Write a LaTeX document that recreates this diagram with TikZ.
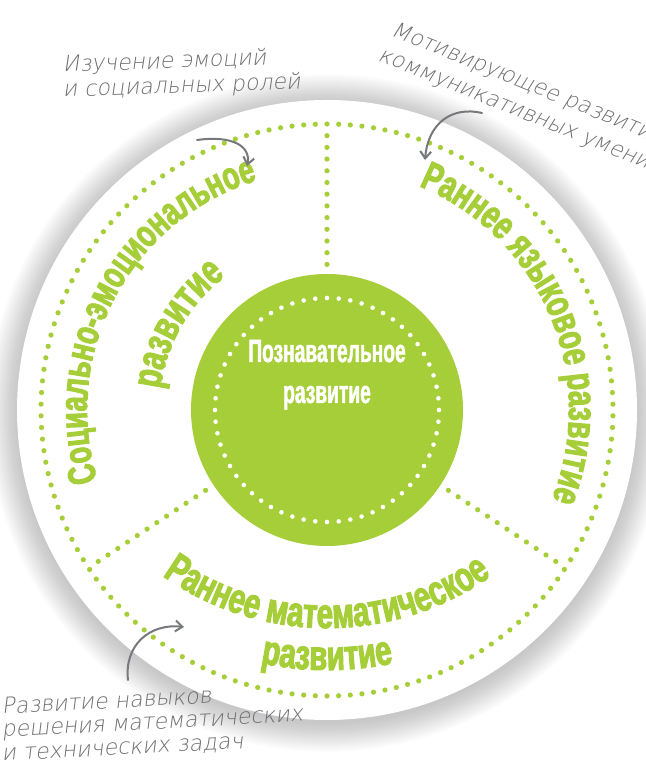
\documentclass[tikz,border=0pt]{standalone}
\usepackage{fontspec}
\usetikzlibrary{decorations.text,arrows.meta}
\definecolor{lgreen}{HTML}{A6CE39}
\definecolor{hgray}{HTML}{6D6E71}
\definecolor{agray}{HTML}{77787B}
\newfontfamily\labfam{Liberation Sans}[FakeStretch=0.70,BoldFeatures={FakeBold=2.5}]
\newfontfamily\cogfam{Liberation Sans}[FakeStretch=0.60,BoldFeatures={FakeBold=1.5}]
\newfontfamily\handfam{DejaVu Sans ExtraLight}[FakeSlant=0.18]
\newcommand\labfnt[1]{\labfam\bfseries\fontsize{#1}{46}\selectfont}
\tikzset{
  hand/.style={text=hgray, font=\handfam\fontsize{22}{25}\selectfont, inner sep=0pt, anchor=base west},
  arr/.style={draw=agray, line width=2pt, line cap=round, -{Straight Barb[length=7pt,width=11pt,line width=2pt]}},
  cog/.style={text=white, font=\cogfam\bfseries\fontsize{32}{36}\selectfont, anchor=base, inner sep=0pt},
  curvelab/.style 2 args={decorate, decoration={text along path, text align=center, text color=lgreen, text={|\labfnt{#1}|#2}}}
}
\begin{document}
\begin{tikzpicture}[x=1pt,y=1pt]
\useasboundingbox (0,0) rectangle (645,773);
\coordinate (C) at (327,363);
\coordinate (Cb) at (327,430);
% soft shadow
\foreach \k in {1,...,20} {
  \fill[black,opacity=0.012] ([yshift=-3pt]C) circle ({309+\k*1.5});
}
\node[circle, fill=white, minimum size=620pt, inner sep=0pt] (disk) at (C) {};
% outer dotted ring
\foreach \i in {0,...,153} {
  \fill[lgreen] (C) ++({\i*2.337662+90}:286) circle (2.6);
}
% dotted dividers
\foreach \a in {90,213.5,-33.5} {
  \foreach \k in {1,...,12} {
    \fill[lgreen] (C) ++(\a:{286-\k*11.7}) circle (2.6);
  }
}
% central disk
\node[circle, fill=lgreen, minimum size=272pt, inner sep=0pt] (core) at (C) {};
\foreach \i in {0,...,59} {
  \fill[white] (C) ++({\i*6}:112) circle (2.3);
}
\node[cog] (cog1) at (327,411) {Познавательное};
\node[cog] (cog2) at (327,370) {развитие};
% curved labels
\path[curvelab={39}{Социально-эмоциональное}] (C) ++(212:240) arc[start angle=212, end angle=92, radius=240];
\path[curvelab={42}{развитие}] (C) ++(210:168) arc[start angle=210, end angle=90, radius=168];
\path[curvelab={40}{Раннее языковое развитие}] (C) ++(83:242) arc[start angle=83, end angle=-37, radius=242];
\path[curvelab={42}{Раннее математическое}] (Cb) ++(215:285) arc[start angle=215, end angle=325, radius=285];
\path[curvelab={42}{развитие}] (Cb) ++(250:327) arc[start angle=250, end angle=290, radius=327];
% annotations
\node[hand, rotate=2] (n1a) at (63,701) {Изучение эмоций};
\node[hand, rotate=2] (n1b) at (63,676) {и социальных ролей};
\node[hand, rotate=-22] (n2a) at (390,738) {Мотивирующее развитие};
\node[hand, rotate=-22] (n2b) at (377,713) {коммуникативных умений};
\node[hand, rotate=3] (n3a) at (2,59) {Развитие навыков};
\node[hand, rotate=3] (n3b) at (2,36) {решения математических};
\node[hand, rotate=3] (n3c) at (2,12) {и технических задач};
% arrows
\coordinate (a1s) at (197,633);
\coordinate (a1e) at (247,607);
\draw[arr] (a1s) .. controls (234,638) and (251,626) .. (a1e);
\coordinate (a2s) at (482,660);
\coordinate (a2e) at (425,613);
\draw[arr] (a2s) .. controls (452,667) and (428,650) .. (a2e);
\coordinate (a3s) at (128,93);
\coordinate (a3e) at (184,146);
\draw[arr] (a3s) .. controls (124,128) and (150,150) .. (a3e);
\end{tikzpicture}
\end{document}
